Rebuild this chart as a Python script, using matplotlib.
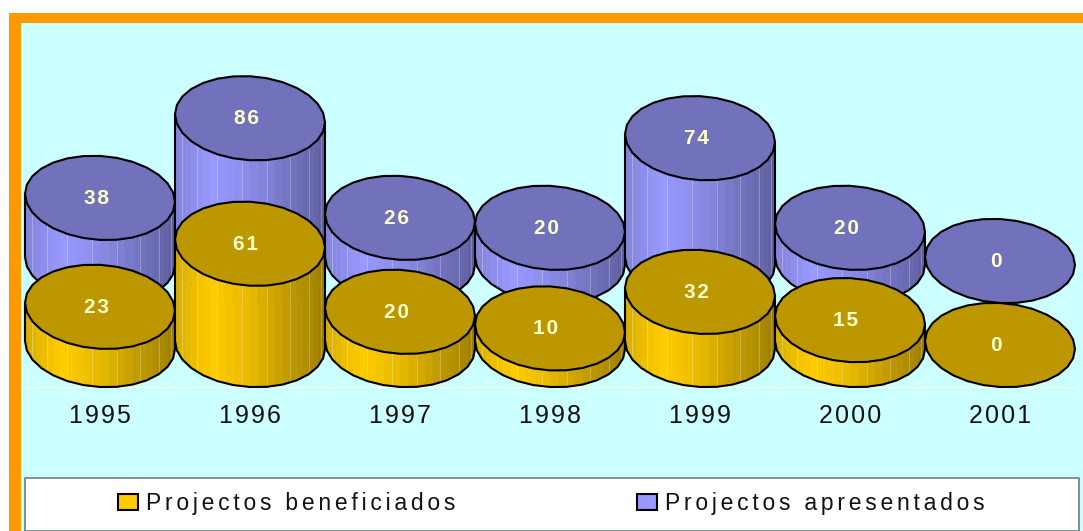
import numpy as np
import matplotlib
matplotlib.use('Agg')
import matplotlib.pyplot as plt
from matplotlib.colors import to_rgb
from matplotlib.patches import Polygon, Rectangle

years = ['1995', '1996', '1997', '1998', '1999', '2000', '2001']
beneficiados = [23, 61, 20, 10, 32, 15, 0]
apresentados = [38, 86, 26, 20, 74, 20, 0]

W, H = 1083, 531
HAIR = '\u200a'

# pixels per value / per category
PX_Y = 1.66
PX_X = 150.0
# cylinder shape, in data units
HALF_W = 0.5
HALF_H = 42 / PX_Y
TILT = 4 / PX_Y
DEPTH = 84 / PX_Y


def spaced(s, gap=HAIR):
    return gap.join(s)


def shade(color, u):
    # side of the cylinder: lit at about a quarter of the width, dark at right
    f = np.interp(u, [0, 0.08, 0.25, 0.4, 0.55, 0.75, 0.9, 1.0],
                  [0.84, 0.9, 1.0, 0.95, 0.88, 0.76, 0.68, 0.6])
    return tuple(c * f for c in to_rgb(color))


def ring(cx, cy, t):
    # slightly tilted ellipse, left edge higher than the right one
    return cx + HALF_W * np.cos(t), cy + HALF_H * np.sin(t) - TILT * np.cos(t)


def cylinder(ax, cx, base, value, top_color, side_color, z):
    cy = base + value
    if value > 0:
        t_fine = np.linspace(-np.pi, 0, 29)
        xt, yt = ring(cx, cy, t_fine)
        xb, yb = ring(cx, base, t_fine)
        for i in range(len(t_fine) - 1):
            u = (xt[i] - xt[0] + xt[i + 1] - xt[0]) / 2 / (2 * HALF_W)
            col = shade(side_color, u)
            ax.add_patch(Polygon([(xt[i], yt[i]), (xt[i + 1], yt[i + 1]),
                                  (xb[i + 1], yb[i + 1]), (xb[i], yb[i])],
                                 facecolor=col, edgecolor=col, lw=0.4, zorder=z))
            if i % 3 == 1:
                ax.plot([xt[i], xb[i]], [yt[i], yb[i]], color='white', alpha=0.3,
                        lw=0.6, zorder=z)
        t = np.linspace(-np.pi, 0, 15)
        xs, ys = ring(cx, base, t)
        xl = np.r_[xt[0], xs, xt[-1]]
        yl = np.r_[yt[0], ys, yt[-1]]
        ax.plot(xl, yl, color='black', lw=1.5, zorder=z, solid_joinstyle='round')
    xe, ye = ring(cx, cy, np.linspace(0, 2 * np.pi, 29))
    ax.add_patch(Polygon(np.c_[xe, ye], facecolor=top_color, edgecolor='black',
                         lw=1.5, joinstyle='round', zorder=z))
    ax.text(cx - 4 / PX_X, cy - 0.5 / PX_Y, spaced(str(value)), color='#FFFFCC',
            fontsize=15, fontweight='bold', ha='center', va='center', zorder=z + 0.5)


plt.rcParams['font.family'] = ['Liberation Sans', 'DejaVu Sans']
fig = plt.figure(figsize=(W / 100, H / 100), dpi=100, facecolor='white')

# orange frame behind the plot area
fig.add_artist(Rectangle((9 / W, 0), (W - 9) / W, (H - 13) / H, transform=fig.transFigure,
                         facecolor='#FF9900', edgecolor='none', zorder=-5))

ax = fig.add_axes([21 / W, 0, (W - 21) / W, (H - 23) / H], facecolor='#CCFFFF')
ax.set_xlim((21 - 100) / PX_X, (W - 100) / PX_X)
ax.set_ylim((345 - H) / PX_Y, (345 - 23) / PX_Y)

for s in ['left', 'right', 'top']:
    ax.spines[s].set_visible(False)
ax.spines['bottom'].set_position(('data', -HALF_H))
ax.spines['bottom'].set_color('#FFFFCC')
ax.spines['bottom'].set_bounds(-0.5, len(years) - 0.5)
ax.spines['bottom'].set_zorder(0.5)
ax.set_yticks([])
x = np.arange(len(years))
ax.set_xticks(x)
ax.set_xticklabels([spaced(y) for y in years], fontsize=18, color='#111111')
ax.tick_params(axis='x', which='major', length=0, pad=12)
ax.set_xticks(np.arange(len(years) + 1) - 0.5, minor=True)
ax.tick_params(axis='x', which='minor', length=4.5, width=0.8, color='#FFFFCC')

for i in range(len(years)):
    cylinder(ax, x[i], DEPTH, apresentados[i], '#7171BC', '#9999FF', 2 + i * 0.01)
for i in range(len(years)):
    cylinder(ax, x[i], 0, beneficiados[i], '#BD9700', '#FFCC00', 3 + i * 0.01)

# legend box
fig.add_artist(Rectangle((25 / W, 0), (W - 4 - 25) / W, 53.5 / H, transform=fig.transFigure,
                         facecolor='white', edgecolor='#708080', lw=1.2, zorder=10))
h1 = Rectangle((0, 0), 1, 1, facecolor='#FFCC00', edgecolor='black', lw=1.5)
h2 = Rectangle((0, 0), 1, 1, facecolor='#9999FF', edgecolor='black', lw=1.5)
leg = fig.legend([h1, h2],
                 [spaced('Projectos beneficiados', HAIR * 2), spaced('Projectos apresentados', HAIR * 2)],
                 ncol=2, loc='center', bbox_to_anchor=(551.5 / W, 27.5 / H), frameon=False,
                 fontsize=16.5, handlelength=0.87, handleheight=0.72, handletextpad=0.35,
                 columnspacing=7.95, labelcolor='#111111')
leg.set_zorder(11)

fig.savefig('out.png', dpi=100)
plt.close()
